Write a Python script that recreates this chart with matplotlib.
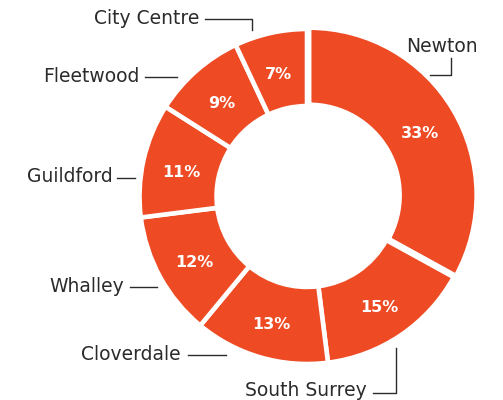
import matplotlib
matplotlib.use("Agg")
import matplotlib.pyplot as plt

# share of each area, clockwise from the top
areas = ["Newton", "South Surrey", "Cloverdale", "Whalley", "Guildford", "Fleetwood", "City Centre"]
shares = [33, 15, 13, 12, 11, 9, 7]

ORANGE = "#EE4B24"
TEXT = "#2B2B2B"

W, H = 503, 400
cx, cy, R = 307, 196.5, 167.5

fig = plt.figure(figsize=(W / 100, H / 100), dpi=100)
ax = fig.add_axes([(cx - R) / W, (H - cy - R) / H, 2 * R / W, 2 * R / H])

explode = [0.015] + [0] * (len(shares) - 1)
wedges, texts, pcts = ax.pie(
    shares, startangle=90, counterclock=False, radius=1, explode=explode,
    colors=[ORANGE] * len(shares),
    autopct="%d%%", pctdistance=0.77,
    wedgeprops=dict(width=0.46, edgecolor="white", linewidth=3.3),
    textprops=dict(color="white", fontsize=11.5, fontweight="bold"))
# the percentages sit a little below the mid radius line in the original
for t in pcts:
    x, y = t.get_position()
    t.set_position((x, y - 4 / R))
ax.set_xlim(-1, 1)
ax.set_ylim(-1, 1)
ax.set_aspect("equal")
ax.axis("off")

# overlay in pixel space for the callouts
ov = fig.add_axes([0, 0, 1, 1])
ov.set_xlim(0, W)
ov.set_ylim(H, 0)
ov.axis("off")

# (text x, text y, alignment, leader line points)
callouts = {
    "Newton": (406, 46, "left", [(430, 75), (451, 75), (451, 58)]),
    "South Surrey": (367, 390, "right", [(373, 393), (396, 393), (396, 348)]),
    "Cloverdale": (181, 355, "right", [(188, 355), (226, 355)]),
    "Whalley": (124, 286, "right", [(130, 287), (157, 287)]),
    "Guildford": (113, 177, "right", [(117, 178), (135, 178)]),
    "Fleetwood": (140, 76, "right", [(145, 77), (177, 77)]),
    "City Centre": (199, 18, "right", [(205, 19), (252, 19), (252, 30)]),
}

for name in areas:
    tx, ty, ha, pts = callouts[name]
    ov.text(tx, ty, name, ha=ha, va="center", fontsize=13.5, color=TEXT)
    ov.plot([p[0] for p in pts], [p[1] for p in pts], color=TEXT, lw=1)

fig.savefig("out.png", dpi=100)
